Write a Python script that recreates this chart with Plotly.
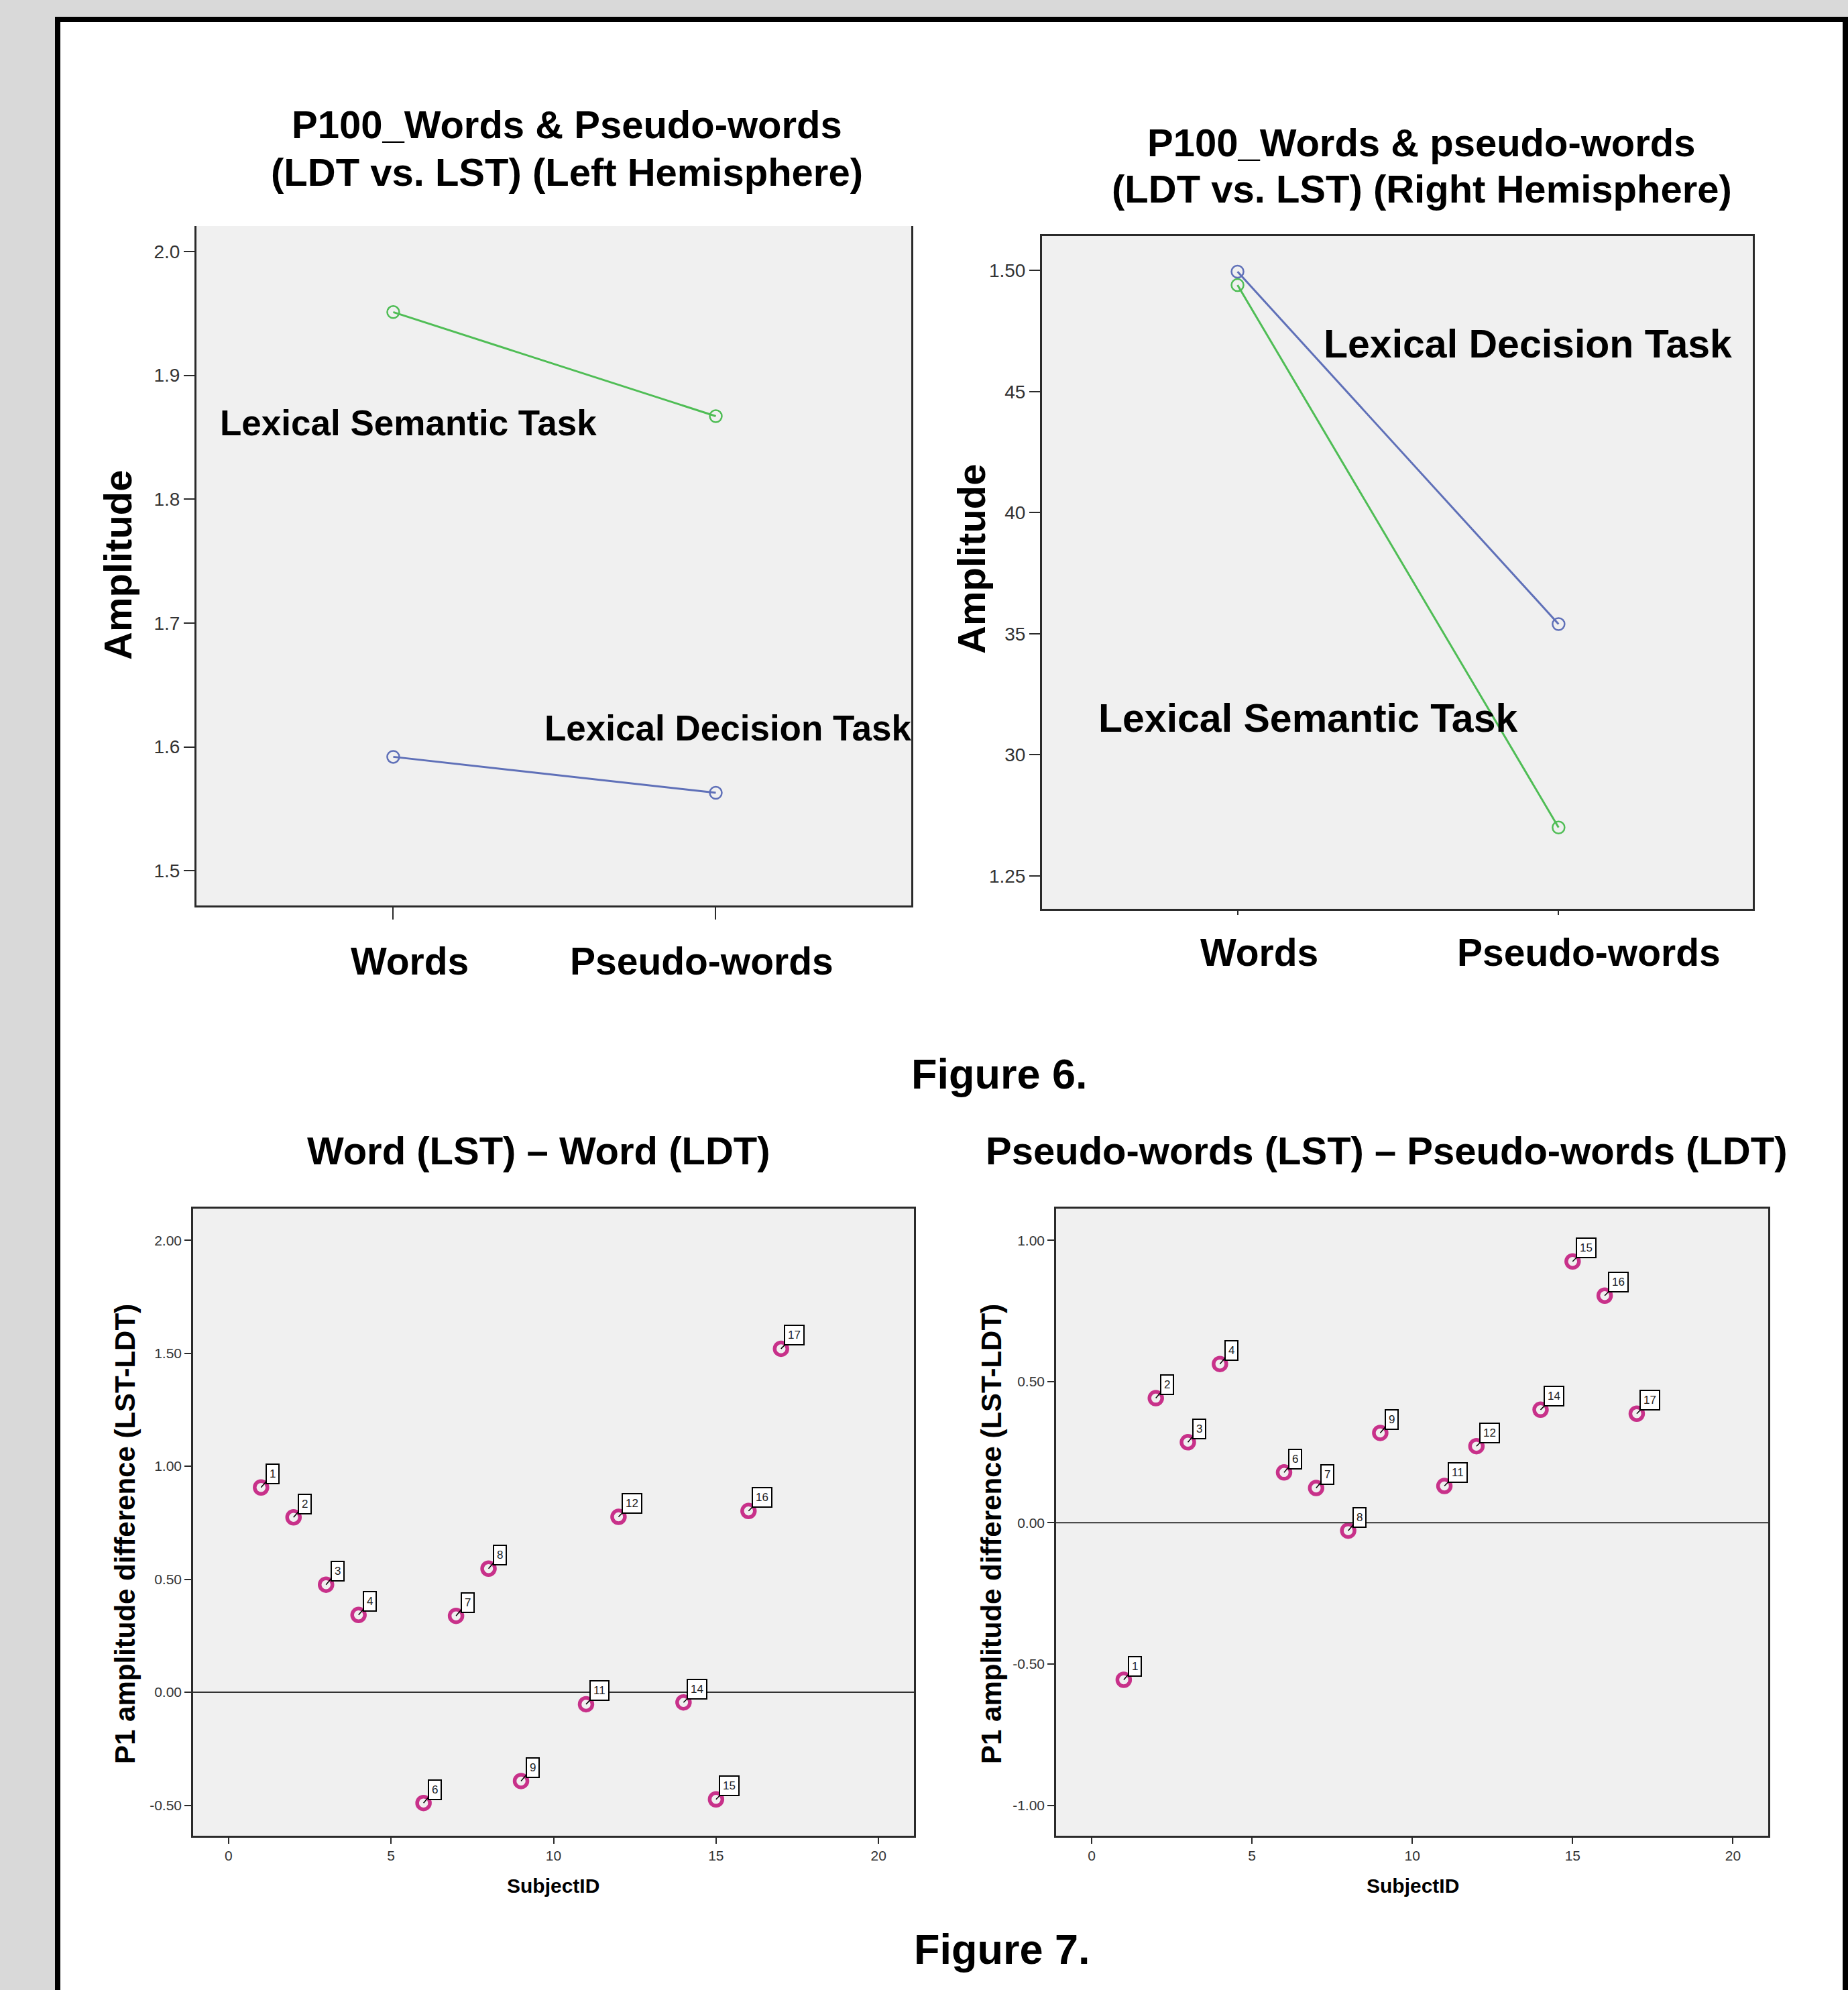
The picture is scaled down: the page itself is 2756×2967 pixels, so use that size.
import plotly.graph_objects as go

W, H = 2756, 2967

# ---------------- data ----------------
CATS = ["Words", "Pseudo-words"]
LH_LDT = [1.592, 1.563]
LH_LST = [1.951, 1.867]
RH_LDT = [1.4995, 1.354]
RH_LST = [1.494, 1.270]

LH_YTICKS = [1.5, 1.6, 1.7, 1.8, 1.9, 2.0]
LH_YTICKTEXT = ["1.5", "1.6", "1.7", "1.8", "1.9", "2.0"]
RH_YTICKS = [1.25, 1.30, 1.35, 1.40, 1.45, 1.50]
RH_YTICKTEXT = ["1.25", "30", "35", "40", "45", "1.50"]

SUBJ_W = [1, 2, 3, 4, 6, 7, 8, 9, 11, 12, 14, 15, 16, 17]
DIFF_W = [0.906, 0.774, 0.476, 0.342, -0.490, 0.338, 0.547, -0.393, -0.053, 0.776, -0.045, -0.474, 0.802, 1.520]
SUBJ_P = [1, 2, 3, 4, 6, 7, 8, 9, 11, 12, 14, 15, 16, 17]
DIFF_P = [-0.556, 0.441, 0.285, 0.562, 0.178, 0.123, -0.028, 0.318, 0.130, 0.271, 0.400, 0.925, 0.804, 0.386]

XTICKS = [0, 5, 10, 15, 20]
W_YTICKS = [-0.5, 0.0, 0.5, 1.0, 1.5, 2.0]
W_YTICKTEXT = ["-0.50", "0.00", "0.50", "1.00", "1.50", "2.00"]
P_YTICKS = [-1.0, -0.5, 0.0, 0.5, 1.0]
P_YTICKTEXT = ["-1.00", "-0.50", "0.00", "0.50", "1.00"]

# ---------------- style ----------------
FONT = "Liberation Sans, Arial, sans-serif"
BLUE = "#5f70b8"
GREEN = "#4fbd55"
MAGENTA = "#c8318a"
AX = "#2a2a2a"


def px(x):
    return x / W


def py(y):
    return 1 - y / H


fig = go.Figure()

for xa, ya, ldt, lst in [("x", "y", LH_LDT, LH_LST), ("x2", "y2", RH_LDT, RH_LST)]:
    fig.add_trace(go.Scatter(x=CATS, y=ldt, mode="lines+markers", xaxis=xa, yaxis=ya,
                             line=dict(color=BLUE, width=3),
                             marker=dict(symbol="circle-open", size=18, color=BLUE, line=dict(width=2.5)),
                             showlegend=False))
    fig.add_trace(go.Scatter(x=CATS, y=lst, mode="lines+markers", xaxis=xa, yaxis=ya,
                             line=dict(color=GREEN, width=3),
                             marker=dict(symbol="circle-open", size=18, color=GREEN, line=dict(width=2.5)),
                             showlegend=False))

fig.add_trace(go.Scatter(x=SUBJ_W, y=DIFF_W, mode="markers", xaxis="x3", yaxis="y3",
                         marker=dict(symbol="circle-open", size=19, color=MAGENTA, line=dict(width=5.5)),
                         showlegend=False))
fig.add_trace(go.Scatter(x=SUBJ_P, y=DIFF_P, mode="markers", xaxis="x4", yaxis="y4",
                         marker=dict(symbol="circle-open", size=19, color=MAGENTA, line=dict(width=5.5)),
                         showlegend=False))

tickfont_top = dict(family=FONT, size=28, color="#333")
tickfont_bot = dict(family=FONT, size=21, color="#333")

common_line = dict(showline=True, linecolor=AX, linewidth=3, showgrid=False, zeroline=False,
                   ticks="outside", tickcolor=AX, tickwidth=2)
bot_line = {**common_line, "linewidth": 2.5}

fig.update_layout(
    width=W, height=H,
    margin=dict(l=0, r=0, t=0, b=0),
    paper_bgcolor="white",
    plot_bgcolor="#f0f0f0",
    xaxis=dict(domain=[px(293), px(1359)], anchor="y", type="category", range=[-0.61, 1.606],
               showticklabels=False, ticklen=18, mirror=False, **common_line),
    yaxis=dict(domain=[py(1350), py(337)], anchor="x", range=[1.472, 2.0205],
               tickvals=LH_YTICKS, ticktext=LH_YTICKTEXT, tickfont=tickfont_top,
               ticklen=16, mirror=True, **common_line),
    xaxis2=dict(domain=[px(1554), px(2614)], anchor="y2", type="category", range=[-0.609, 1.605],
                showticklabels=False, ticklen=6, mirror=True, **common_line),
    yaxis2=dict(domain=[py(1355), py(352)], anchor="x2", range=[1.2364, 1.5142],
                tickvals=RH_YTICKS, ticktext=RH_YTICKTEXT, tickfont=tickfont_top,
                ticklen=16, mirror=True, **common_line),
    xaxis3=dict(domain=[px(288), px(1363)], anchor="y3", range=[-1.09, 21.09],
                tickvals=XTICKS, tickfont=tickfont_bot, ticklen=9, mirror=True, **bot_line),
    yaxis3=dict(domain=[py(2737), py(1802)], anchor="x3", range=[-0.635, 2.140],
                tickvals=W_YTICKS, ticktext=W_YTICKTEXT, tickfont=tickfont_bot, ticklen=10, mirror=True,
                **bot_line),
    xaxis4=dict(domain=[px(1575), px(2637)], anchor="y4", range=[-1.11, 21.1],
                tickvals=XTICKS, tickfont=tickfont_bot, ticklen=9, mirror=True, **bot_line),
    yaxis4=dict(domain=[py(2737), py(1802)], anchor="x4", range=[-1.108, 1.112],
                tickvals=P_YTICKS, ticktext=P_YTICKTEXT, tickfont=tickfont_bot, ticklen=10, mirror=True,
                **bot_line),
)

shapes = []
# page decoration: grey surround and black frame
shapes.append(dict(type="rect", xref="paper", yref="paper", x0=0, x1=px(82), y0=0, y1=1,
                   fillcolor="#d9d9d9", line=dict(width=0), layer="below"))
shapes.append(dict(type="rect", xref="paper", yref="paper", x0=0, x1=1, y0=py(25), y1=1,
                   fillcolor="#d9d9d9", line=dict(width=0), layer="below"))
shapes.append(dict(type="rect", xref="paper", yref="paper", x0=px(82), x1=px(90), y0=0, y1=py(25),
                   fillcolor="black", line=dict(width=0), layer="below"))
shapes.append(dict(type="rect", xref="paper", yref="paper", x0=px(82), x1=1, y0=py(33), y1=py(25),
                   fillcolor="black", line=dict(width=0), layer="below"))
shapes.append(dict(type="rect", xref="paper", yref="paper", x0=px(2748), x1=1, y0=0, y1=py(25),
                   fillcolor="black", line=dict(width=0), layer="below"))
# zero reference lines
shapes.append(dict(type="line", xref="x3 domain", yref="y3", x0=0, x1=1, y0=0, y1=0,
                   line=dict(color="#333", width=2)))
shapes.append(dict(type="line", xref="x4 domain", yref="y4", x0=0, x1=1, y0=0, y1=0,
                   line=dict(color="#333", width=2)))
fig.update_layout(shapes=shapes)

ann = []


def text(x, y, s, size, bold=True, xanchor="center", yanchor="middle", angle=0, color="black", family=FONT):
    ann.append(dict(xref="paper", yref="paper", x=px(x), y=py(y), text=(f"<b>{s}</b>" if bold else s),
                    showarrow=False, xanchor=xanchor, yanchor=yanchor, textangle=angle,
                    font=dict(family=family, size=size, color=color)))


# titles
text(846, 186, "P100_Words &amp; Pseudo-words", 58)
text(846, 256, "(LDT vs. LST) (Left Hemisphere)", 58)
text(2120, 212, "P100_Words &amp; pseudo-words", 58)
text(2120, 282, "(LDT vs. LST) (Right Hemisphere)", 58)
# y axis titles top
text(176, 842, "Amplitude", 58, angle=-90)
text(1448, 833, "Amplitude", 58, angle=-90)
# line labels
text(326, 630, "Lexical Semantic Task", 53, xanchor="left")
text(810, 1085, "Lexical Decision Task", 53, xanchor="left")
text(1972, 513, "Lexical Decision Task", 59, xanchor="left")
text(1636, 1071, "Lexical Semantic Task", 59, xanchor="left")
# category labels (positioned on the category axes)
for i, c in enumerate(CATS):
    shift_l = [25, -21][i]
    shift_r = [32, 45][i]
    ann.append(dict(xref="x", yref="paper", x=c, y=py(1433), text=f"<b>{c}</b>", showarrow=False,
                    xshift=shift_l, yanchor="middle", font=dict(family=FONT, size=57, color="black")))
    ann.append(dict(xref="x2", yref="paper", x=c, y=py(1420), text=f"<b>{c}</b>", showarrow=False,
                    xshift=shift_r, yanchor="middle", font=dict(family=FONT, size=57, color="black")))
# figure captions
text(1490, 1601, "Figure 6.", 63)
text(1494, 2906, "Figure 7.", 63)
# bottom titles
text(803, 1715, "Word (LST) – Word (LDT)", 58)
text(2067, 1715, "Pseudo-words (LST) – Pseudo-words (LDT)", 58)
text(186, 2287, "P1 amplitude difference (LST-LDT)", 42, angle=-90)
text(1478, 2287, "P1 amplitude difference (LST-LDT)", 42, angle=-90)
text(825, 2811, "SubjectID", 30)
text(2107, 2811, "SubjectID", 30)

# point labels with leader lines
for xs, ys, xr, yr in [(SUBJ_W, DIFF_W, "x3", "y3"), (SUBJ_P, DIFF_P, "x4", "y4")]:
    for s, v in zip(xs, ys):
        lab = str(s)
        ann.append(dict(xref=xr, yref=yr, x=s, y=v, text=lab, showarrow=True, arrowhead=0,
                        arrowwidth=1.5, arrowcolor="black", ax=17 if len(lab) == 1 else 20, ay=-20,
                        bordercolor="black", borderwidth=2, borderpad=4, bgcolor="white",
                        font=dict(family=FONT, size=17, color="#222")))

fig.update_layout(annotations=ann)

fig.write_html("out.html")
